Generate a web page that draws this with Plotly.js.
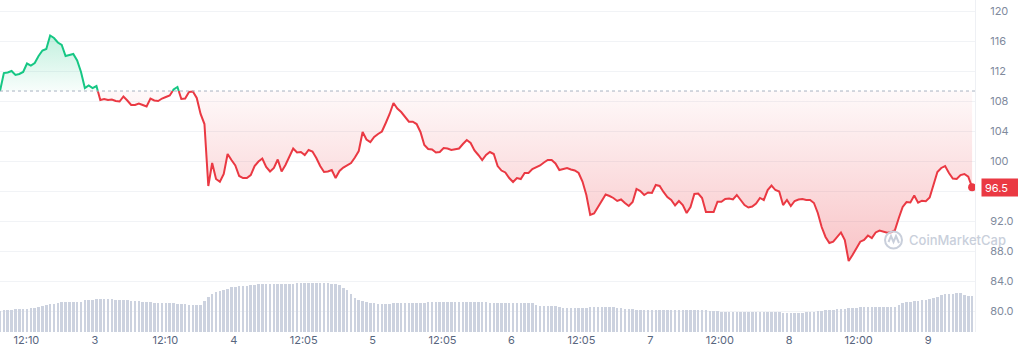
<!DOCTYPE html>
<html>
<head>
<meta charset="utf-8">
<script src="https://cdn.plot.ly/plotly-3.0.1.min.js"></script>
<style>
  html, body { margin: 0; padding: 0; background: #ffffff; }
  #chart { width: 1018px; height: 356px; }
</style>
</head>
<body>
<div id="chart"></div>
<script>
// ---- data (40-minute samples, starting 2 May 07:36 UTC) ----
const START_TIME = '2024-05-02T07:36:00Z';
const STEP_MINUTES = 40;

const prices = [
109.33,111.73,111.80,112.00,111.47,111.60,111.87,113.00,112.73,113.07,
114.00,114.73,114.93,116.73,116.40,115.80,115.47,114.00,114.13,114.27,
113.40,111.87,109.73,110.07,109.73,110.00,108.13,108.27,108.13,108.20,
108.00,107.93,108.60,108.07,107.47,107.47,107.67,107.47,107.27,108.33,
108.07,108.00,108.33,108.53,108.73,109.53,109.87,108.27,108.33,109.20,
109.27,108.40,106.27,104.93,96.67,99.73,97.60,97.24,98.27,100.93,
100.13,99.40,98.00,97.73,97.73,98.13,99.33,99.93,100.33,99.20,
98.60,99.07,100.20,98.60,99.47,100.60,101.67,101.13,101.20,100.80,
101.47,101.27,100.40,99.33,98.53,98.60,98.80,97.73,98.67,99.13,
99.47,99.73,100.47,101.33,103.87,102.87,102.53,103.20,103.60,103.93,
105.07,106.27,107.73,107.00,106.53,105.87,105.24,105.24,104.93,103.87,
102.13,101.60,101.53,101.13,101.20,101.73,101.67,101.47,101.53,101.67,
102.27,102.80,102.40,101.40,100.80,100.13,100.80,101.20,100.93,99.33,
98.73,98.47,97.73,97.20,97.73,97.60,98.40,98.40,98.93,99.20,
99.40,99.80,100.13,100.13,99.67,98.80,98.93,99.07,98.87,98.73,
98.40,97.27,95.47,92.80,93.00,93.80,94.67,95.53,95.33,95.07,
94.67,94.87,94.40,94.00,94.53,96.27,96.00,95.47,95.80,95.73,
96.80,96.67,95.87,95.20,94.80,94.07,94.67,94.13,93.07,93.87,
95.60,95.67,95.07,93.20,93.20,93.20,94.57,94.57,94.93,95.00,
94.87,95.47,94.80,94.13,93.80,93.93,94.33,95.07,94.80,96.13,
96.73,96.13,95.93,94.13,94.80,94.00,94.67,94.87,94.93,94.80,
94.80,94.40,93.07,91.20,89.87,89.07,89.24,89.87,90.47,89.47,
86.67,87.47,88.27,89.24,89.47,90.07,89.73,90.47,90.73,90.57,
90.43,90.49,90.80,92.40,93.87,94.53,94.47,95.40,94.44,94.71,
94.64,95.13,96.80,98.53,99.07,99.33,98.40,97.67,97.60,98.13,
98.27,97.91,96.50
];

const volumes = [
21.3,21.6,22,22.3,22.6,23,23.2,23.5,23.7,24,
25,26,27,28,28.5,29,29.6,30,30,30,
30,30.4,32,32.2,32.5,32.8,33,32.9,32.7,32.6,
32.4,32.3,32,31.8,31.5,31.3,30.8,30.3,30,29.7,
29.5,29.4,29.2,29,28.8,28.6,28.4,28.2,27.8,27.5,
27.2,27,27.2,31,35,38.5,40,40.8,41.7,43,
44.7,45.5,45.8,46.1,46.4,46.8,47.2,47.6,47.7,47.8,
47.8,47.9,47.9,48,48,48,48.3,48.6,48.7,48.7,
48.7,48.7,48.7,48.7,48.7,48.7,48.4,47.7,47,44.5,
42,38,34,32.5,31,30,29.2,28.7,28.3,28,
27.8,27.7,28.7,28.7,28.7,28.7,28.7,28.7,28.7,28.7,
29.2,29.7,29.7,29.7,29.7,29.7,29.7,29.7,29.7,29.7,
29.8,29.9,30,29.9,29.7,29.6,29.6,29.5,29.5,29.4,
29.3,29.3,29.3,29.3,29.3,29.3,29.3,29.3,29.3,26.7,
26.5,26.5,26.5,26.5,26.5,25.2,24.3,24.1,24,23.8,
23.8,24.1,24.5,24.8,25.2,25.3,25.3,25.3,25.3,25,
24.4,23.9,23.5,23.1,22.7,22.3,22,22,22,22,
22,22,22,22,22,22,22,22,22,22,
22,22,22,22,21.3,21,20.7,20.4,20,19.7,
19.7,19.7,19.7,19.7,19.7,19.7,19.7,19.7,19.7,19.7,
19.7,19.7,19.7,19.4,19.2,19,18.7,19,19.3,19.6,
20,20.5,21,21.5,22,22.2,22.4,22.6,22.8,23.2,
23.6,24,24.4,24.7,25,25.2,25.3,25.3,25.3,25.3,
25.3,25.3,25.3,27.5,29.2,30,30.5,31.2,31.5,32,
32.3,32.7,34,35.4,36.7,38,38.2,38.4,38.6,38.7,
37.3,36.5,36
];

const tickTimes = [
'2024-05-02 12:10','2024-05-03 00:00','2024-05-03 12:10','2024-05-04 00:00',
'2024-05-04 12:05','2024-05-05 00:00','2024-05-05 12:05','2024-05-06 00:00',
'2024-05-06 12:05','2024-05-07 00:00','2024-05-07 12:00','2024-05-08 00:00',
'2024-05-08 12:00','2024-05-09 00:00'
];
const tickLabels = ['12:10','3','12:10','4','12:05','5','12:05','6','12:05','7','12:00','8','12:00','9'];

const priceTicks = [80,84,88,92,96,100,104,108,112,116,120];
const priceTickLabels = ['80.0','84.0','88.0','92.0','','100','104','108','112','116','120'];

const lastPriceLabel = '96.5';

// ---- build ----
const GREEN = '#16c784', RED = '#ea3943';
function fmt(ms){
  const d = new Date(Math.round(ms));
  const p = n => String(n).padStart(2,'0');
  return d.getUTCFullYear()+'-'+p(d.getUTCMonth()+1)+'-'+p(d.getUTCDate())+' '+
         p(d.getUTCHours())+':'+p(d.getUTCMinutes())+':'+p(d.getUTCSeconds());
}
const t0 = Date.parse(START_TIME);
const stepMs = STEP_MINUTES*60000;
const tms = prices.map((_, i) => t0 + i*stepMs);
const times = tms.map(fmt);
const base = prices[0];

// dense series with baseline crossings inserted
const dx = [], dy = [];
for (let i = 0; i < prices.length; i++) {
  dx.push(tms[i]); dy.push(prices[i]);
  if (i < prices.length - 1) {
    const a = prices[i] - base, b = prices[i+1] - base;
    if (a*b < 0) {
      const f = (base - prices[i]) / (prices[i+1] - prices[i]);
      dx.push(tms[i] + f*(tms[i+1]-tms[i])); dy.push(base);
    }
  }
}
const dxs = dx.map(fmt);
const baseY = dy.map(() => base);
const redFill = dy.map(v => Math.min(v, base));
const greenFill = dy.map(v => Math.max(v, base));
const redLine = dy.map(v => v <= base ? v : null);
const greenLine = dy.map(v => v >= base ? v : null);
const minP = Math.min(...prices), maxP = Math.max(...prices);

const traces = [
  { type:'bar', x: times, y: volumes, yaxis:'y2', width: stepMs*0.66,
    marker:{color:'#ccd2df', line:{width:0}}, hoverinfo:'skip', showlegend:false },
  { type:'scatter', mode:'lines', x: dxs, y: baseY, line:{width:0}, hoverinfo:'skip', showlegend:false },
  { type:'scatter', mode:'lines', x: dxs, y: redFill, line:{width:0}, fill:'tonexty',
    fillgradient:{type:'vertical', start: minP, stop: base,
      colorscale:[[0,'rgba(234,57,67,0.30)'],[1,'rgba(234,57,67,0.03)']]},
    hoverinfo:'skip', showlegend:false },
  { type:'scatter', mode:'lines', x: dxs, y: baseY, line:{width:0}, hoverinfo:'skip', showlegend:false },
  { type:'scatter', mode:'lines', x: dxs, y: greenFill, line:{width:0}, fill:'tonexty',
    fillgradient:{type:'vertical', start: base, stop: maxP,
      colorscale:[[0,'rgba(22,199,132,0.03)'],[1,'rgba(22,199,132,0.26)']]},
    hoverinfo:'skip', showlegend:false },
  { type:'scatter', mode:'lines', x: dxs, y: redLine, line:{color:RED, width:2}, connectgaps:false, showlegend:false },
  { type:'scatter', mode:'lines', x: dxs, y: greenLine, line:{color:GREEN, width:2}, connectgaps:false, showlegend:false },
  { type:'scatter', mode:'markers', x:[times[times.length-1]], y:[prices[prices.length-1]],
    marker:{color:RED, size:8}, showlegend:false }
];

const PW = 975, PH = 332;
const px = x => x/PW, py = y => 1 - y/PH;

const layout = {
  width:1018, height:356,
  margin:{l:0, r:43, t:0, b:24, pad:0},
  paper_bgcolor:'#ffffff', plot_bgcolor:'#ffffff',
  font:{family:'Inter, "Noto Sans", sans-serif', size:11, color:'#808a9d'},
  showlegend:false, bargap:0,
  xaxis:{ type:'date', range:[fmt(t0), fmt(t0 + 168.5*3600000)],
    tickmode:'array', tickvals: tickTimes, ticktext: tickLabels,
    showgrid:false, zeroline:false, showline:false, ticks:'',
    tickfont:{family:'Inter, sans-serif', size:11, color:'#58667e'}, fixedrange:true },
  yaxis:{ side:'right', range:[77.2, 121.467], tickmode:'array',
    tickvals: priceTicks, ticktext: priceTickLabels,
    showgrid:true, gridcolor:'#f1f3f6', gridwidth:1, zeroline:false,
    showline:true, linecolor:'#eef0f4', linewidth:1, ticks:'',
    ticklabelstandoff:12,
    tickfont:{family:'Inter, sans-serif', size:11, color:'#808a9d'}, fixedrange:true },
  yaxis2:{ overlaying:'y', range:[0, 332], visible:false, fixedrange:true },
  shapes:[
    { type:'line', xref:'paper', yref:'y', x0:0, x1:1, y0:base, y1:base,
      line:{color:'#a9b2c1', width:1, dash:'dot'}, layer:'above' },
    { type:'circle', xref:'paper', yref:'paper', x0:px(885), x1:px(902), y0:py(248.5), y1:py(231.5),
      line:{color:'#c9cfdb', width:2}, layer:'above' },
    { type:'path', xref:'paper', yref:'paper',
      path:'M '+px(888.5)+','+py(242)+' L '+px(891)+','+py(236)+' L '+px(893.5)+','+py(242)+' L '+px(896)+','+py(236)+' L '+px(899)+','+py(243),
      line:{color:'#c9cfdb', width:2}, layer:'above' }
  ],
  annotations:[
    { xref:'paper', yref:'y', x:1, y: prices[prices.length-1], xanchor:'left', yanchor:'middle',
      xshift:6, text: lastPriceLabel, showarrow:false, bgcolor:RED, borderpad:3,
      width:31, height:11, align:'left',
      font:{family:'Inter, sans-serif', size:11, color:'#ffffff'} },
    { xref:'paper', yref:'paper', x:px(907), y:py(239.5), xanchor:'left', yanchor:'middle',
      text:'CoinMarketCap', showarrow:false,
      font:{family:'Inter, sans-serif', size:13, color:'#c9cfdb', weight:500} }
  ]
};

Plotly.newPlot('chart', traces, layout, {displayModeBar:false, staticPlot:true});
</script>
</body>
</html>
